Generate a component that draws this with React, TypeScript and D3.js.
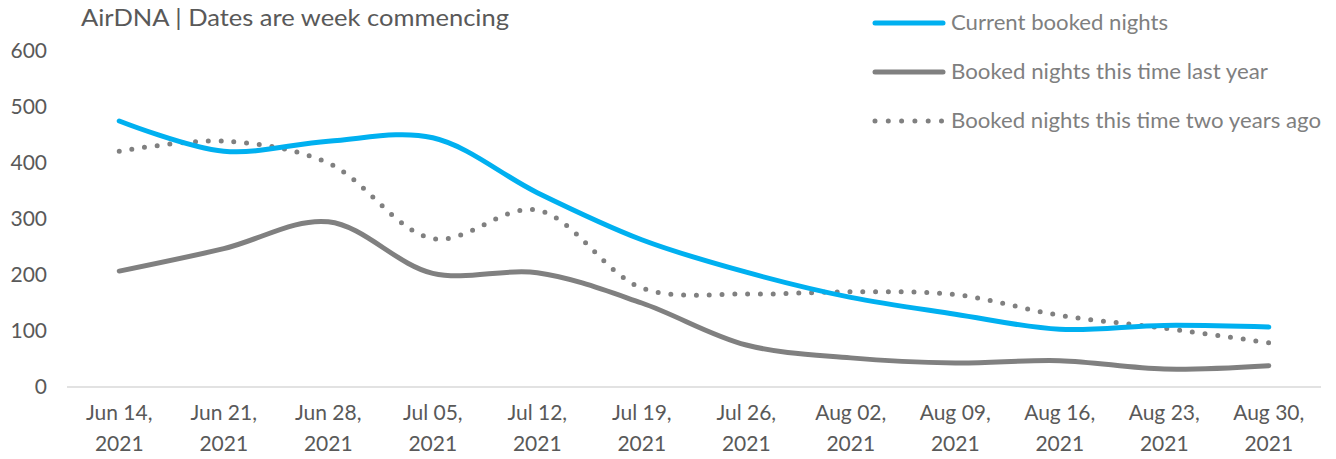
import { useEffect, useRef } from "react";
import * as d3 from "d3";

const weeks = [
  ["Jun 14,", "2021"],
  ["Jun 21,", "2021"],
  ["Jun 28,", "2021"],
  ["Jul 05,", "2021"],
  ["Jul 12,", "2021"],
  ["Jul 19,", "2021"],
  ["Jul 26,", "2021"],
  ["Aug 02,", "2021"],
  ["Aug 09,", "2021"],
  ["Aug 16,", "2021"],
  ["Aug 23,", "2021"],
  ["Aug 30,", "2021"],
];

const currentNights = [475, 421, 439, 445, 347, 263, 205, 160, 130, 103, 110, 107];
const lastYearNights = [207, 247, 295, 203, 204, 150, 75, 52, 43, 47, 32, 38];
const twoYearsNights = [421, 439, 400, 265, 316, 177, 166, 170, 165, 128, 105, 79];

const yTicks = [0, 100, 200, 300, 400, 500, 600];

const seriesNames = [
  "Current booked nights",
  "Booked nights this time last year",
  "Booked nights this time two years ago",
];

const FONT = "Lato, 'Open Sans', sans-serif";

function BookedNightsChart() {
  const ref = useRef<HTMLDivElement>(null);

  useEffect(() => {
    const width = 1336;
    const height = 459;

    d3.select(ref.current).selectAll("*").remove();

    const svg = d3
      .select(ref.current)
      .append("svg")
      .attr("width", width)
      .attr("height", height)
      .style("position", "absolute")
      .style("left", 0)
      .style("top", 0)
      .style("font-family", FONT);

    const labels = weeks.map((w) => w[0] + " " + w[1]);

    const x = d3.scaleBand().domain(labels).range([67, 1321]).padding(0);
    const cx = (i: number) => (x(labels[i]) as number) + x.bandwidth() / 2;

    const y = d3.scaleLinear().domain([0, 600]).range([387, 51]);

    // title
    svg
      .append("text")
      .attr("x", 81)
      .attr("y", 26)
      .attr("fill", "#595959")
      .attr("font-size", 23)
      .attr("textLength", 428)
      .attr("lengthAdjust", "spacingAndGlyphs")
      .text("AirDNA | Dates are week commencing");

    // y tick labels
    svg
      .append("g")
      .selectAll("text")
      .data(yTicks)
      .join("text")
      .attr("x", 47)
      .attr("y", (d) => y(d))
      .attr("dy", "0.35em")
      .attr("text-anchor", "end")
      .attr("fill", "#595959")
      .attr("font-size", 21)
      .text((d) => d);

    // x axis line
    svg
      .append("line")
      .attr("x1", 67)
      .attr("x2", 1321)
      .attr("y1", y(0))
      .attr("y2", y(0))
      .attr("stroke", "#d9d9d9")
      .attr("stroke-width", 1.3);

    // x tick labels
    const xl = svg
      .append("g")
      .selectAll("text")
      .data(weeks)
      .join("text")
      .attr("text-anchor", "middle")
      .attr("fill", "#595959")
      .attr("font-size", 21);
    xl.append("tspan")
      .attr("x", (_, i) => cx(i))
      .attr("y", 420)
      .text((d) => d[0]);
    xl.append("tspan")
      .attr("x", (_, i) => cx(i))
      .attr("y", 451)
      .text((d) => d[1]);

    const line = d3
      .line<number>()
      .x((_, i) => cx(i))
      .y((d) => y(d))
      .curve(d3.curveCatmullRom.alpha(0.5));

    svg
      .append("path")
      .datum(twoYearsNights)
      .attr("fill", "none")
      .attr("stroke", "#808080")
      .attr("stroke-width", 5)
      .attr("stroke-linecap", "round")
      .attr("stroke-dasharray", "0 12.8")
      .attr("d", line);

    svg
      .append("path")
      .datum(lastYearNights)
      .attr("fill", "none")
      .attr("stroke", "#808080")
      .attr("stroke-width", 5)
      .attr("stroke-linecap", "round")
      .attr("d", line);

    svg
      .append("path")
      .datum(currentNights)
      .attr("fill", "none")
      .attr("stroke", "#00b0f0")
      .attr("stroke-width", 5)
      .attr("stroke-linecap", "round")
      .attr("d", line);

    // legend
    const legendStyles = [
      { color: "#00b0f0", dash: null, width: 217 },
      { color: "#808080", dash: null, width: 317 },
      { color: "#808080", dash: "0 13.3", width: 370 },
    ];
    const legend = svg
      .append("g")
      .selectAll("g")
      .data(seriesNames)
      .join("g")
      .attr("transform", (_, i) => `translate(0,${23 + i * 49})`);
    legend
      .append("line")
      .attr("x1", 875)
      .attr("x2", 943)
      .attr("stroke", (_, i) => legendStyles[i].color)
      .attr("stroke-width", 5)
      .attr("stroke-linecap", "round")
      .attr("stroke-dasharray", (_, i) => legendStyles[i].dash);
    legend
      .append("text")
      .attr("x", 951)
      .attr("y", 7)
      .attr("fill", "#7f7f7f")
      .attr("font-size", 21)
      .attr("textLength", (_, i) => legendStyles[i].width)
      .attr("lengthAdjust", "spacingAndGlyphs")
      .text((d) => d);
  }, []);

  return <div ref={ref}></div>;
}

export default function App() {
  return <BookedNightsChart />;
}
